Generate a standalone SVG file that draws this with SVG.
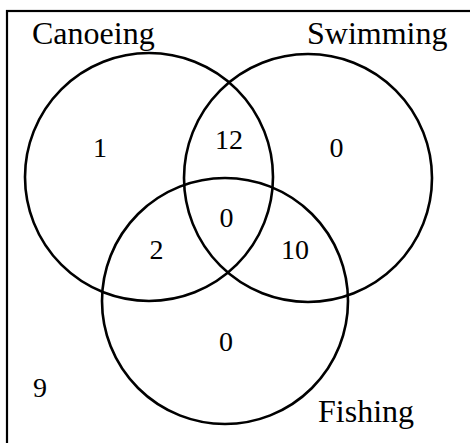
<svg xmlns="http://www.w3.org/2000/svg" width="470" height="443" viewBox="0 0 470 443">
  <style>
    .set { fill: none; stroke: #000; stroke-width: 2.6; }
    .frame { fill: none; stroke: #000; stroke-width: 2.2; }
    .label { font-family: "Liberation Serif", "Times New Roman", serif; font-size: 32px; fill: #000; }
    .num { font-family: "Liberation Serif", "Times New Roman", serif; font-size: 28px; fill: #000; text-anchor: middle; }
  </style>
  <rect width="470" height="443" fill="#fff"/>
  <g id="universe">
    <rect class="frame" x="7" y="11" width="480" height="460"/>
    <text class="num" x="40" y="397">9</text>
  </g>
  <g id="canoeing">
    <circle class="set" cx="149" cy="177" r="124"/>
    <text class="label" x="32" y="44">Canoeing</text>
  </g>
  <g id="swimming">
    <circle class="set" cx="308" cy="178" r="124"/>
    <text class="label" x="307" y="44">Swimming</text>
  </g>
  <g id="fishing">
    <circle class="set" cx="225" cy="301" r="123"/>
    <text class="label" x="318" y="422">Fishing</text>
  </g>
  <g id="regions">
    <text class="num" x="100" y="157">1</text>
    <text class="num" x="229" y="149">12</text>
    <text class="num" x="336.5" y="157">0</text>
    <text class="num" x="226.5" y="227">0</text>
    <text class="num" x="156.5" y="259">2</text>
    <text class="num" x="295" y="259">10</text>
    <text class="num" x="226" y="351">0</text>
  </g>
  <g id="connectors"></g>
</svg>
